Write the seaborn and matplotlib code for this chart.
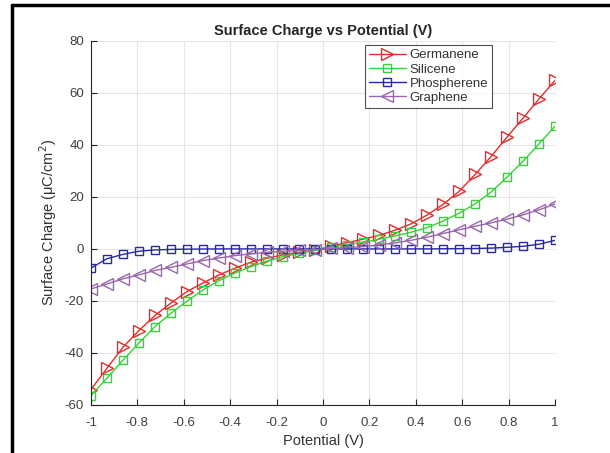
import numpy as np
import pandas as pd
import matplotlib
matplotlib.use('Agg')
import matplotlib.pyplot as plt
import seaborn as sns
from matplotlib.lines import Line2D

# 30 sample points between -1 and 1 V
potential = np.linspace(-1, 1, 30)

germanene = [-54.1, -45.9, -37.8, -31.4, -25.6, -20.8, -16.4, -13.1, -10.0, -7.4,
             -5.1, -3.6, -2.3, -1.3, -0.6, 1.0, 2.4, 3.7, 5.2, 7.2,
             9.6, 13.0, 17.1, 22.1, 28.6, 35.5, 43.0, 50.3, 57.7, 64.8]
silicene = [-56.4, -49.7, -42.8, -36.2, -29.9, -24.7, -20.1, -15.8, -12.2, -9.3,
            -6.8, -4.7, -3.0, -1.7, -0.6, 0.6, 1.6, 2.6, 3.7, 5.0,
            6.4, 8.2, 10.7, 13.7, 17.3, 21.8, 27.6, 33.7, 40.4, 47.2]
phospherene = [-7.4, -3.8, -2.1, -0.9, -0.4, -0.2, -0.1, -0.05, 0.0, 0.0,
               0.0, 0.0, 0.0, 0.0, 0.0, 0.0, 0.0, 0.0, 0.0, 0.0,
               0.0, 0.0, 0.05, 0.1, 0.15, 0.3, 0.6, 1.0, 1.8, 3.3]
graphene = [-15.4, -13.5, -11.5, -10.0, -8.3, -7.1, -5.8, -4.5, -3.5, -2.6,
            -1.9, -1.3, -0.9, -0.6, -0.3, 0.2, 0.5, 0.9, 1.5, 2.3,
            3.3, 4.5, 5.9, 7.3, 8.7, 10.0, 11.4, 13.1, 15.0, 17.3]

names = ['Germanene', 'Silicene', 'Phospherene', 'Graphene']
colors = ['#e32b2b', '#33d433', '#2828a8', '#9a65ad']
markers = ['>', 's', 's', '<']
msizes = [9, 5.5, 5.5, 9]

df = pd.DataFrame({'Potential': np.tile(potential, 4),
                   'Charge': germanene + silicene + phospherene + graphene,
                   'Material': np.repeat(names, 30)})

sns.set_style('white')
plt.rcParams['font.family'] = ['Liberation Sans', 'DejaVu Sans']
plt.rcParams['axes.unicode_minus'] = False

fig = plt.figure(figsize=(6.1, 4.53), dpi=100)
ax = fig.add_axes([0.149, 0.106, 0.761, 0.804])

for name, c, m, ms in zip(names, colors, markers, msizes):
    sub = df[df['Material'] == name]
    sns.lineplot(data=sub, x='Potential', y='Charge', ax=ax, color=c, lw=1,
                 marker=m, markersize=ms, markerfacecolor='none',
                 markeredgecolor=c, markeredgewidth=1, label=name, legend=False)

ax.set_xlim(-1, 1)
ax.set_ylim(-60, 80)
ax.set_xticks(np.arange(-1, 1.01, 0.2))
ax.set_xticklabels(['-1', '-0.8', '-0.6', '-0.4', '-0.2', '0', '0.2', '0.4', '0.6', '0.8', '1'])
ax.set_yticks(np.arange(-60, 81, 20))
ax.grid(True, color='#e6e6e6', lw=0.8)
for s in ['top', 'right']:
    ax.spines[s].set_visible(False)
for s in ['left', 'bottom']:
    ax.spines[s].set_color('#262626')
    ax.spines[s].set_linewidth(0.8)
ax.tick_params(direction='in', length=4, width=0.8, labelsize=9.5,
               colors='#262626', labelcolor='#404040', left=True, bottom=True)
ax.tick_params(axis='x', pad=9)
ax.tick_params(axis='y', pad=5)
ax.set_xlabel('Potential (V)', fontsize=10.5, color='#333333', labelpad=3)
ax.set_ylabel('Surface Charge (\u03bcC/cm$^2$)', fontsize=10.5, color='#333333')
ax.set_title('Surface Charge vs Potential (V)', fontsize=10.5, fontweight='bold', pad=4)

handles = [Line2D([], [], color=c, marker=m, markersize=ms, markerfacecolor='none',
                  markeredgecolor=c, lw=1) for c, m, ms in zip(colors, markers, msizes)]
leg = ax.legend(handles, names, loc='upper left', bbox_to_anchor=(0.59, 0.988),
                fontsize=9.5, frameon=True, fancybox=False, handlelength=2.8,
                borderpad=0.3, labelspacing=0.15, handletextpad=0.3, borderaxespad=0)
leg.get_frame().set_edgecolor('#262626')
leg.get_frame().set_linewidth(0.8)
for t in leg.get_texts():
    t.set_color('#333333')

# black frame at top and left of the picture
fig.add_artist(Line2D([12 / 610, 1], [1 - 5 / 453, 1 - 5 / 453], color='black', lw=2.5,
                      transform=fig.transFigure))
fig.add_artist(Line2D([12 / 610, 12 / 610], [0, 1 - 5 / 453], color='black', lw=2.5,
                      transform=fig.transFigure))

fig.savefig('out.png', dpi=100)
